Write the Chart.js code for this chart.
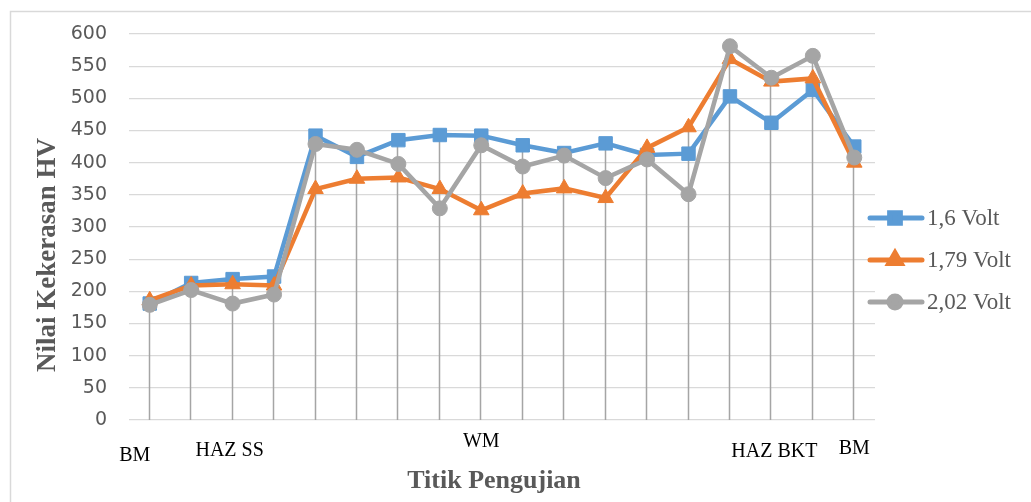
<!DOCTYPE html>
<html>
<head>
<meta charset="utf-8">
<script src="https://cdn.jsdelivr.net/npm/chart.js@4.4.1/dist/chart.umd.min.js"></script>
<style>
  html, body { margin: 0; padding: 0; background: #fff; }
  canvas { display: block; }
</style>
</head>
<body>
<canvas id="chart" width="1031" height="502"></canvas>
<script>
// titik pengujian 1..18
const titik = ['1', '2', '3', '4', '5', '6', '7', '8', '9', '10', '11', '12', '13', '14', '15', '16', '17', '18'];

// nilai kekerasan HV per tegangan
const volt16  = [181, 213, 219, 223, 442, 409, 435, 443, 442, 427, 415, 430, 412, 414, 503, 462, 513, 425];
const volt179 = [186, 209, 211, 209, 359, 375, 377, 359, 326, 352, 360, 345, 423, 455, 561, 526, 531, 400];
const volt202 = [179, 202, 181, 195, 429, 420, 398, 329, 427, 394, 411, 376, 405, 351, 581, 532, 566, 408];

const seriesNames = ['1,6 Volt', '1,79 Volt', '2,02 Volt'];
const yTicks = [0, 50, 100, 150, 200, 250, 300, 350, 400, 450, 500, 550, 600];

// daerah pengujian and the point each label sits under
const zoneLabels = ['BM', 'HAZ SS', 'WM', 'HAZ BKT', 'BM'];
const zoneAt = [0, 2, 8, 15, 17];

const BLUE = '#5b9bd5';
const ORANGE = '#ed7d31';
const GRAY = '#a5a5a5';
const TEXT = '#595959';
const SERIF = '"Liberation Serif", "Times New Roman", serif';

// label nudges (dx, dy from axis line)
const zoneNudge = [[-15, 36], [-3, 31], [0, 22], [3, 32], [0, 29]];

const extras = {
    id: 'extras',
    beforeDraw(chart) {
        const ctx = chart.ctx;
        ctx.save();
        ctx.strokeStyle = '#d9d9d9';
        ctx.lineWidth = 1.5;
        ctx.strokeRect(10.5, 11.5, 1040, 520);
        ctx.restore();
    },
    beforeDatasetsDraw(chart) {
        // drop lines from the highest point to the axis
        const ctx = chart.ctx;
        const x = chart.scales.x;
        const y = chart.scales.y;
        ctx.save();
        ctx.strokeStyle = GRAY;
        ctx.lineWidth = 1.5;
        titik.forEach((t, i) => {
            const top = Math.max(...chart.data.datasets.map(d => d.data[i]));
            const px = Math.round(x.getPixelForValue(i)) - 0.5;
            ctx.beginPath();
            ctx.moveTo(px, y.getPixelForValue(top));
            ctx.lineTo(px, y.getPixelForValue(0));
            ctx.stroke();
        });
        ctx.restore();
    },
    afterDraw(chart) {
        const ctx = chart.ctx;
        const x = chart.scales.x;
        const y = chart.scales.y;
        const area = chart.chartArea;
        ctx.save();

        // zone labels under the axis
        ctx.fillStyle = '#000';
        ctx.font = '20px ' + SERIF;
        ctx.textAlign = 'center';
        ctx.textBaseline = 'middle';
        zoneLabels.forEach((lbl, k) => {
            const [dx, dy] = zoneNudge[k];
            ctx.fillText(lbl, x.getPixelForValue(zoneAt[k]) + dx, y.getPixelForValue(0) + dy);
        });

        // axis titles
        ctx.fillStyle = TEXT;
        ctx.font = 'bold 26px ' + SERIF;
        ctx.fillText('Titik Pengujian', 494, 481);
        ctx.save();
        ctx.translate(48, 255);
        ctx.rotate(-Math.PI / 2);
        ctx.font = 'bold 27px ' + SERIF;
        ctx.fillText('Nilai Kekerasan HV', 0, 0);
        ctx.restore();

        // legend
        const rows = [218, 260, 302];
        chart.data.datasets.forEach((ds, i) => {
            const ly = rows[i];
            ctx.strokeStyle = ds.borderColor;
            ctx.lineWidth = 5;
            ctx.lineCap = 'round';
            ctx.beginPath();
            ctx.moveTo(area.right - 5, ly);
            ctx.lineTo(area.right + 47, ly);
            ctx.stroke();
            ctx.fillStyle = ds.borderColor;
            Chart.helpers.drawPoint(ctx, {
                pointStyle: ds.pointStyle,
                radius: ds.pointRadius * 0.8,
                borderWidth: 1,
                rotation: 0
            }, area.right + 20, ly);
            ctx.fillStyle = TEXT;
            ctx.font = '23px ' + SERIF;
            ctx.textAlign = 'left';
            ctx.fillText(ds.label, area.right + 52, ly + 1);
        });
        ctx.restore();
    }
};

const line = (label, data, color, style, radius, order) => ({
    label,
    data,
    borderColor: color,
    backgroundColor: color,
    pointBackgroundColor: color,
    pointBorderColor: color,
    borderWidth: 4.5,
    pointStyle: style,
    pointRadius: radius,
    pointHoverRadius: radius,
    pointBorderWidth: 1,
    tension: 0,
    order
});

new Chart(document.getElementById('chart'), {
    type: 'line',
    data: {
        labels: titik,
        datasets: [
            line(seriesNames[0], volt16, BLUE, 'rect', 9.5, 3),
            line(seriesNames[1], volt179, ORANGE, 'triangle', 9, 2),
            line(seriesNames[2], volt202, GRAY, 'circle', 7.5, 1)
        ]
    },
    options: {
        responsive: false,
        animation: false,
        layout: { padding: { top: 34, left: 0, right: 156, bottom: 82 } },
        plugins: {
            legend: { display: false },
            tooltip: { enabled: false }
        },
        scales: {
            x: {
                type: 'category',
                offset: true,
                display: false
            },
            y: {
                min: 0,
                max: 600,
                afterBuildTicks: (s) => { s.ticks = yTicks.map(v => ({ value: v })); },
                afterFit: (s) => { s.width = 129; },
                border: { display: false },
                grid: { color: '#d9d9d9', lineWidth: 1.3, drawTicks: false },
                ticks: {
                    color: TEXT,
                    padding: 22,
                    font: { family: '"DejaVu Sans", sans-serif', size: 19 }
                }
            }
        }
    },
    plugins: [extras]
});
</script>
</body>
</html>
